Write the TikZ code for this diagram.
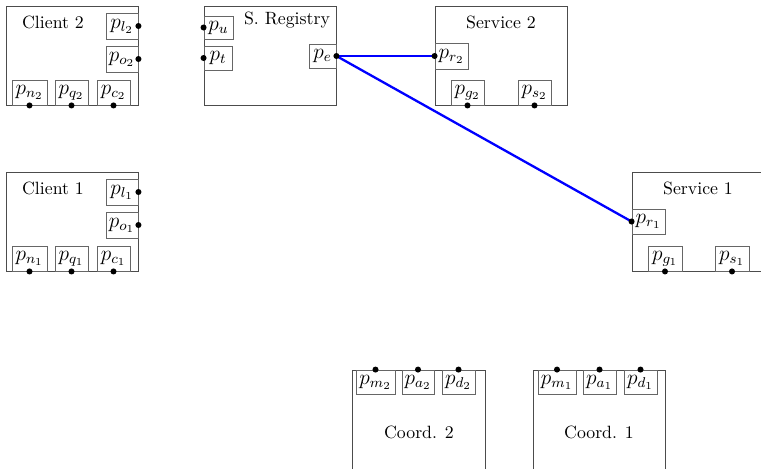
\documentclass[tikz,border=0pt]{standalone}
\begin{document}
\begin{tikzpicture}[x=0.5625pt,y=-0.5625pt,
  comp/.style={draw=black!70,line width=0.5pt,rectangle,inner sep=0pt,minimum width=132*0.5625pt,minimum height=99*0.5625pt},
  port/.style={draw=black!60,line width=0.5pt,rectangle,inner sep=0pt,minimum height=25*0.5625pt,font=\large},
  pdot/.style={circle,fill=black,inner sep=0pt,minimum size=3.4pt},
  link/.style={draw=blue,line width=1.3pt},
  lbl/.style={inner sep=0pt}]
\useasboundingbox (0,0) rectangle (761,468);
% Components
\node[comp] (c2) at (72,55.5) {};
\node[comp] (c1) at (72,221.5) {};
\node[comp] (sr) at (270,55.5) {};
\node[comp] (s2) at (501,55.5) {};
\node[comp] (s1) at (698,221.5) {};
\node[comp,minimum width=133*0.5625pt] (k2) at (418.5,419.5) {};
\node[comp] (k1) at (599,419.5) {};
% Labels
\node[lbl] (tc2) at (53,22) {Client 2};
\node[lbl] (tc1) at (53,188) {Client 1};
\node[lbl] (tsr) at (287,20) {S. Registry};
\node[lbl] (ts2) at (501,22) {Service 2};
\node[lbl] (ts1) at (698,188) {Service 1};
\node[lbl] (tk2) at (419,432) {Coord. 2};
\node[lbl] (tk1) at (599,432) {Coord. 1};
% Client 2 ports
\node[port,minimum width=32*0.5625pt,minimum height=26*0.5625pt] (pl2) at (122,26) {$p_{l_2}$};
\node[port,minimum width=32*0.5625pt,minimum height=26*0.5625pt] (po2) at (122,59) {$p_{o_2}$};
\node[port,minimum width=35*0.5625pt] (pn2) at (29.5,92.5) {$p_{n_2}$};
\node[port,minimum width=33*0.5625pt] (pq2) at (71.5,92.5) {$p_{q_2}$};
\node[port,minimum width=33*0.5625pt] (pc2) at (113.5,92.5) {$p_{c_2}$};
% Client 1 ports
\node[port,minimum width=32*0.5625pt,minimum height=26*0.5625pt] (pl1) at (122,192) {$p_{l_1}$};
\node[port,minimum width=32*0.5625pt,minimum height=26*0.5625pt] (po1) at (122,225) {$p_{o_1}$};
\node[port,minimum width=35*0.5625pt] (pn1) at (29.5,258.5) {$p_{n_1}$};
\node[port,minimum width=33*0.5625pt] (pq1) at (71.5,258.5) {$p_{q_1}$};
\node[port,minimum width=33*0.5625pt] (pc1) at (113.5,258.5) {$p_{c_1}$};
% Registry ports
\node[port,minimum width=29*0.5625pt,minimum height=23*0.5625pt] (pu) at (218.5,27.5) {$p_u$};
\node[port,minimum width=28*0.5625pt,minimum height=24*0.5625pt] (pt) at (218,58) {$p_t$};
\node[port,minimum width=27*0.5625pt,minimum height=24*0.5625pt] (pe) at (322.5,56) {$p_e$};
% Service 2 ports
\node[port,minimum width=33*0.5625pt,minimum height=26*0.5625pt] (pr2) at (451.5,56) {$p_{r_2}$};
\node[port,minimum width=33*0.5625pt] (pg2) at (467.5,92.5) {$p_{g_2}$};
\node[port,minimum width=33*0.5625pt] (ps2) at (534.5,92.5) {$p_{s_2}$};
% Service 1 ports
\node[port,minimum width=33*0.5625pt] (pr1) at (648.5,221.5) {$p_{r_1}$};
\node[port,minimum width=34*0.5625pt] (pg1) at (665,258.5) {$p_{g_1}$};
\node[port,minimum width=34*0.5625pt] (ps1) at (732,258.5) {$p_{s_1}$};
% Coord 2 ports
\node[port,minimum width=39*0.5625pt,minimum height=24*0.5625pt] (pm2) at (375.5,382) {$p_{m_2}$};
\node[port,minimum width=32*0.5625pt,minimum height=24*0.5625pt] (pa2) at (418,382) {$p_{a_2}$};
\node[port,minimum width=33*0.5625pt,minimum height=24*0.5625pt] (pd2) at (458.5,382) {$p_{d_2}$};
% Coord 1 ports
\node[port,minimum width=38*0.5625pt,minimum height=24*0.5625pt] (pm1) at (557,382) {$p_{m_1}$};
\node[port,minimum width=33*0.5625pt,minimum height=24*0.5625pt] (pa1) at (599.5,382) {$p_{a_1}$};
\node[port,minimum width=33*0.5625pt,minimum height=24*0.5625pt] (pd1) at (640.5,382) {$p_{d_1}$};
% Links
\draw[link] (pe.east) -- (pr2.west);
\draw[link] (pe.east) -- (pr1.west);
% Dots
\foreach \p in {pl2,po2,pl1,po1,pe}{\node[pdot] at (\p.east) {};}
\foreach \p in {pu,pt,pr2,pr1}{\node[pdot] at (\p.west) {};}
\foreach \p in {pn2,pq2,pc2,pn1,pq1,pc1,pg2,ps2,pg1,ps1}{\node[pdot] at (\p.south) {};}
\foreach \p in {pm2,pa2,pd2,pm1,pa1,pd1}{\node[pdot] at (\p.north) {};}
\end{tikzpicture}
\end{document}
